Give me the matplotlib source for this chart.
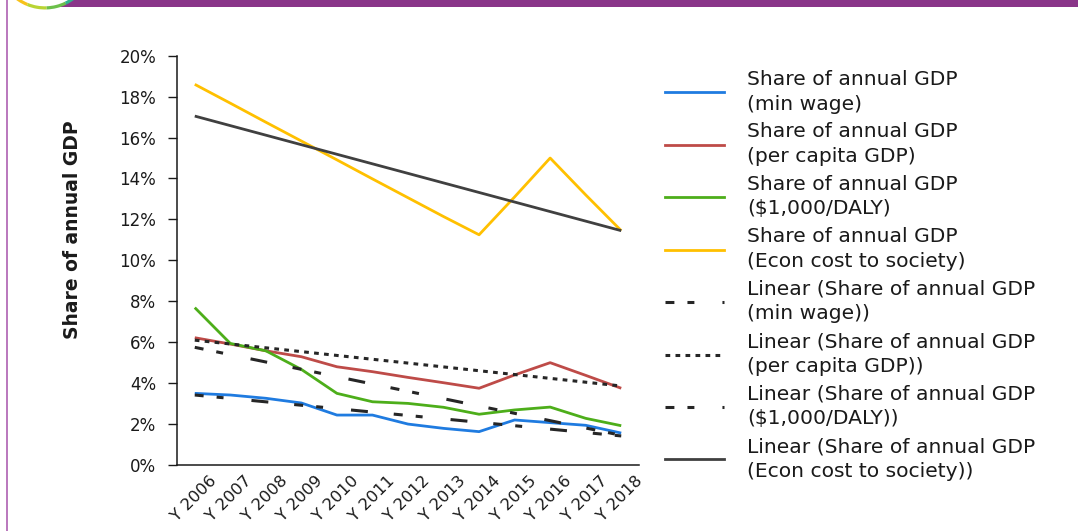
import numpy as np
import matplotlib
matplotlib.use("Agg")
import matplotlib.pyplot as plt
from matplotlib.patches import Rectangle, Circle, Wedge
from matplotlib.lines import Line2D
from matplotlib.transforms import ScaledTranslation

plt.rcParams['font.family'] = ['DejaVu Sans']
plt.rcParams['lines.scale_dashes'] = False

years = ['Y 2006', 'Y 2007', 'Y 2008', 'Y 2009', 'Y 2010', 'Y 2011', 'Y 2012',
		 'Y 2013', 'Y 2014', 'Y 2015', 'Y 2016', 'Y 2017', 'Y 2018']

# share of annual GDP, in %
min_wage = [3.50, 3.42, 3.26, 3.03, 2.44, 2.44, 2.00, 1.79, 1.63, 2.20, 2.07, 1.94, 1.56]
per_capita = [6.22, 5.91, 5.58, 5.29, 4.80, 4.56, 4.28, 4.02, 3.75, 4.40, 5.00, 4.38, 3.75]
daly = [7.69, 5.94, 5.58, 4.67, 3.50, 3.09, 3.01, 2.82, 2.48, 2.69, 2.83, 2.28, 1.92]
econ_cost = [18.60, 17.68, 16.75, 15.83, 14.91, 13.98, 13.06, 12.14, 11.25, 13.10, 15.00, 13.20, 11.45]

# linear trendlines (value at Y 2006, value at Y 2018)
trend_start = [3.42, 6.10, 5.75, 17.05]
trend_end = [1.42, 3.86, 1.45, 11.45]

series_labels = ['Share of annual GDP\n(min wage)',
				 'Share of annual GDP\n(per capita GDP)',
				 'Share of annual GDP\n($1,000/DALY)',
				 'Share of annual GDP\n(Econ cost to society)']
trend_labels = ['Linear (Share of annual GDP\n(min wage))',
				'Linear (Share of annual GDP\n(per capita GDP))',
				'Linear (Share of annual GDP\n($1,000/DALY))',
				'Linear (Share of annual GDP\n(Econ cost to society))']

colors = ['#1F7BE0', '#BE4B48', '#4DAE1A', '#FFC000']
long_dash_dot = (31, (12.2, 18.7, 6.5, 9.4, 5.0, 20.2))
trend_styles = [
	dict(color='#262626', linestyle=long_dash_dot, lw=2.2),
	dict(color='#262626', linestyle=(0, (3.4, 3.8)), lw=2.2),
	dict(color='#262626', linestyle=long_dash_dot, lw=2.2),
	dict(color='#404040', linestyle='-', lw=2.0),
]

W, H = 1078, 531
fig = plt.figure(figsize=(W / 100, H / 100), dpi=100)

# page decoration: purple header, logo ring, left border
bg = fig.add_axes([0, 0, 1, 1], zorder=-1)
bg.set_xlim(0, W)
bg.set_ylim(0, H)
bg.axis('off')
bg.add_patch(Rectangle((45, H - 7), W - 45, 7, color='#8A3589', lw=0))
bg.add_patch(Circle((45, H + 39), 47, color='white', lw=0))
ring_cols = ['#F39A1E', '#F7C21B', '#B9D433', '#6CC04A', '#2FB38A', '#23A5A0']
for i, c in enumerate(ring_cols):
	bg.add_patch(Wedge((45, H + 39), 48.5, 200 + i * 24, 224 + i * 24, width=3.2, color=c, lw=0))
bg.plot([6.5, 6.5], [0, H], color='#B46CB8', lw=1.3)

ax = fig.add_axes([177 / W, 1 - 465 / H, (639 - 177) / W, (465 - 55.7) / H])

x = np.arange(len(years))
all_series = [min_wage, per_capita, daly, econ_cost]
for vals, col in zip(all_series, colors):
	ax.plot(x, vals, color=col, lw=2.0, solid_capstyle='butt', zorder=2)
for s, e, st in zip(trend_start, trend_end, trend_styles):
	ax.plot([x[0], x[-1]], [s, e], zorder=3, solid_capstyle='butt', dash_capstyle='butt', **st)

ax.set_xlim(-0.5, len(years) - 0.5)
ax.set_ylim(0, 20)
ax.set_yticks(np.arange(0, 21, 2))
ax.set_yticklabels([f'{v}%' for v in range(0, 21, 2)])
ax.tick_params(axis='y', length=6.5, width=1.0, pad=8.5, labelsize=12, colors='#1a1a1a')
ax.set_xticks(x)
ax.set_xticklabels(years, rotation=45, ha='right', rotation_mode='anchor', fontsize=11.8)
ax.tick_params(axis='x', length=0, pad=6, colors='#1a1a1a')
offset = ScaledTranslation(14 / 100, 0, fig.dpi_scale_trans)
for lab in ax.get_xticklabels():
	lab.set_transform(lab.get_transform() + offset)
for side in ['top', 'right']:
	ax.spines[side].set_visible(False)
for side in ['left', 'bottom']:
	ax.spines[side].set_color('#1a1a1a')
	ax.spines[side].set_linewidth(1.1)

fig.text(72 / W, 1 - 230 / H, 'Share of annual GDP', rotation=90, ha='center', va='center',
		 fontsize=13.5, fontweight='bold', color='#1a1a1a')

handles = [Line2D([], [], color=c, lw=2.0) for c in colors]
handles += [Line2D([], [], **st) for st in trend_styles]
leg = fig.legend(handles, series_labels + trend_labels, loc='upper left',
				 bbox_to_anchor=(665 / W, 1 - 70 / H), frameon=False, fontsize=14.6,
				 borderpad=0, borderaxespad=0, handlelength=2.9, handletextpad=1.15,
				 labelspacing=0.44)
for t in leg.get_texts():
	t.set_linespacing(1.37)
	t.set_color('#1a1a1a')

fig.savefig('out.png', dpi=100, facecolor='white')
